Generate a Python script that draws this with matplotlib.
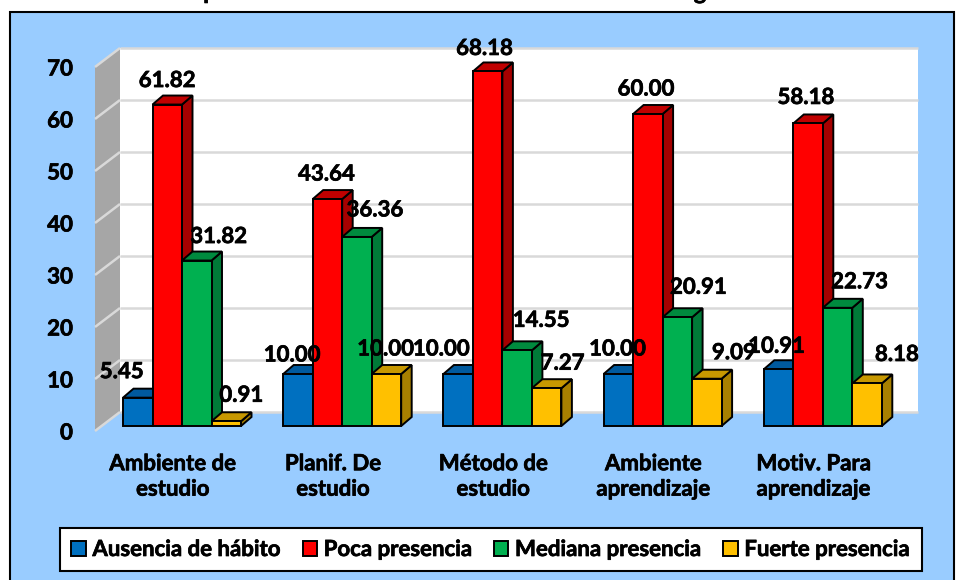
import matplotlib
matplotlib.use("Agg")
import matplotlib.pyplot as plt
import matplotlib.patheffects as pe
from matplotlib.patches import Polygon, Rectangle
from matplotlib.text import Text
from matplotlib.transforms import ScaledTranslation

plt.rcParams['font.family'] = ['Lato', 'DejaVu Sans']
plt.rcParams['font.weight'] = 'bold'

categories = ["Ambiente de\nestudio", "Planif. De\nestudio", "Método de\nestudio",
              "Ambiente\naprendizaje", "Motiv. Para\naprendizaje"]
ausencia = [5.45, 10.00, 10.00, 10.00, 10.91]
poca = [61.82, 43.64, 68.18, 60.00, 58.18]
mediana = [31.82, 36.36, 14.55, 20.91, 22.73]
fuerte = [0.91, 10.00, 7.27, 9.09, 8.18]
series_names = ["Ausencia de hábito", "Poca presencia", "Mediana presencia", "Fuerte presencia"]
yticks = [0, 10, 20, 30, 40, 50, 60, 70]

# front, side, top colours of each series
colors = [("#0070c0", "#00508a", "#005a9e"),
          ("#ff0000", "#a50000", "#c00000"),
          ("#00b050", "#007a38", "#008a3e"),
          ("#ffc000", "#a88000", "#c79800")]
# label offset from the top middle of the bar front, pixels
offsets = [[(-16, 26), (-6, 19), (-17, 25), (-1, 25), (-2, 23)],
           [(0, 24), (-1, 25), (-3, 23), (-2, 25), (-2, 26)],
           [(22, 24), (18, 27), (24, 30), (21, 30), (22, 26)],
           [(15, 26), (-1, 25), (16, 25), (27, 26), (30, 29)]]

W, H = 956, 580
fontsize = 16
fig = plt.figure(figsize=(W / 100, H / 100), dpi=100, facecolor="white")
fig.add_artist(Rectangle((10 / W, -0.02), 944 / W, 1 - 12 / H + 0.02, transform=fig.transFigure,
                         facecolor="#99ccff", edgecolor="black", linewidth=1.5, zorder=-1))

# axes runs along the front edge of the chart box: 0 at y=431, 70 at y=67
left, right, y0, y70 = 95, 918, 431, 67
ax = fig.add_axes([left / W, 1 - y0 / H, (right - left) / W, (y0 - y70) / H])
ax.patch.set_visible(False)
for s in ax.spines.values():
    s.set_visible(False)
px_x = 160.2    # pixels per category
px_y = (y0 - y70) / 70.0
xmin, xmax = (left - 182) / px_x, (right - 182) / px_x
ax.set_xlim(xmin, xmax)
ax.set_ylim(0, 70)
ax.set_xticks(range(len(categories)))
ax.set_xticklabels(categories, fontsize=fontsize, linespacing=1.26)
ax.set_yticks(yticks)
ax.tick_params(axis="both", length=0)
ax.tick_params(axis="x", pad=16)
ax.tick_params(axis="y", pad=16, labelsize=fontsize)
# category labels sit a bit left of the bar groups
shift = ScaledTranslation(-9 / 100, 0, fig.dpi_scale_trans)
for lab in ax.get_xticklabels():
    lab.set_transform(lab.get_transform() + shift)

# walls
wall_dx, wall_dy = 25 / px_x, 19 / px_y
ax.add_patch(Rectangle((xmin + wall_dx, wall_dy), xmax - xmin - wall_dx, 70, facecolor="white",
                       edgecolor="none", clip_on=False, zorder=1))
ax.add_patch(Polygon([(xmin, 0), (xmin + wall_dx, wall_dy), (xmin + wall_dx, 70 + wall_dy), (xmin, 70)],
                     facecolor="#a6a6a6", edgecolor="none", clip_on=False, zorder=1))
for t in yticks:
    ax.plot([xmin + wall_dx, xmax], [t + wall_dy, t + wall_dy], color="#d9d9d9", lw=1.8,
            clip_on=False, zorder=2, solid_capstyle="butt")
    ax.plot([xmin, xmin + wall_dx], [t, t + wall_dy], color="#d9d9d9", lw=1.8,
            clip_on=False, zorder=2, solid_capstyle="butt")

# bars, left to right so each one hides the side of the previous one
bar_w = 29.5 / px_x
bar_dx, bar_dy = 10.5 / px_x, 9 / px_y
base = 5 / px_y
edge = 1.4
all_series = [ausencia, poca, mediana, fuerte]
handles = []
z = 3
for g in range(len(categories)):
    for i, vals in enumerate(all_series):
        front, side, top = colors[i]
        x = g + (i - 1.5) * bar_w
        x0, x1 = x - bar_w / 2, x + bar_w / 2
        y1 = base + vals[g]
        ax.add_patch(Polygon([(x1, base), (x1 + bar_dx, base + bar_dy), (x1 + bar_dx, y1 + bar_dy), (x1, y1)],
                             facecolor=side, edgecolor="black", lw=edge, clip_on=False, zorder=z))
        ax.add_patch(Polygon([(x0, y1), (x0 + bar_dx, y1 + bar_dy), (x1 + bar_dx, y1 + bar_dy), (x1, y1)],
                             facecolor=top, edgecolor="black", lw=edge, clip_on=False, zorder=z))
        b = ax.bar(x, vals[g], bar_w, bottom=base, color=front, edgecolor="black", lw=edge,
                   clip_on=False, zorder=z)
        if g == 0:
            handles.append(b[0])
        z += 1

# labels go over all the bars
for i, vals in enumerate(all_series):
    for g, v in enumerate(vals):
        x = g + (i - 1.5) * bar_w
        ax.annotate(f"{v:.2f}", (x, base + v), xytext=offsets[i][g], textcoords="offset pixels",
                    ha="center", va="center", fontsize=fontsize, zorder=50, annotation_clip=False)

leg = fig.legend(handles, series_names, loc="center", bbox_to_anchor=(491 / W, 1 - 549.5 / H), ncol=4,
                 fontsize=fontsize, frameon=True, fancybox=False, framealpha=1, facecolor="white",
                 edgecolor="black", handlelength=0.65, handleheight=0.65, handletextpad=0.3,
                 columnspacing=0.95, borderpad=0.5)
leg.get_frame().set_linewidth(1.5)

# title is cut off by the top of the image, only the descenders show
fig.text(210 / W, 1 + 1 / H, "p", fontsize=17, ha="center", va="baseline")
fig.text(700 / W, 1 + 1 / H, "g", fontsize=17, ha="center", va="baseline")

# reference text is heavier than Lato bold
for t in fig.findobj(Text):
    t.set_path_effects([pe.withStroke(linewidth=0.5, foreground="black")])

fig.savefig("out.png", dpi=100, facecolor=fig.get_facecolor())
